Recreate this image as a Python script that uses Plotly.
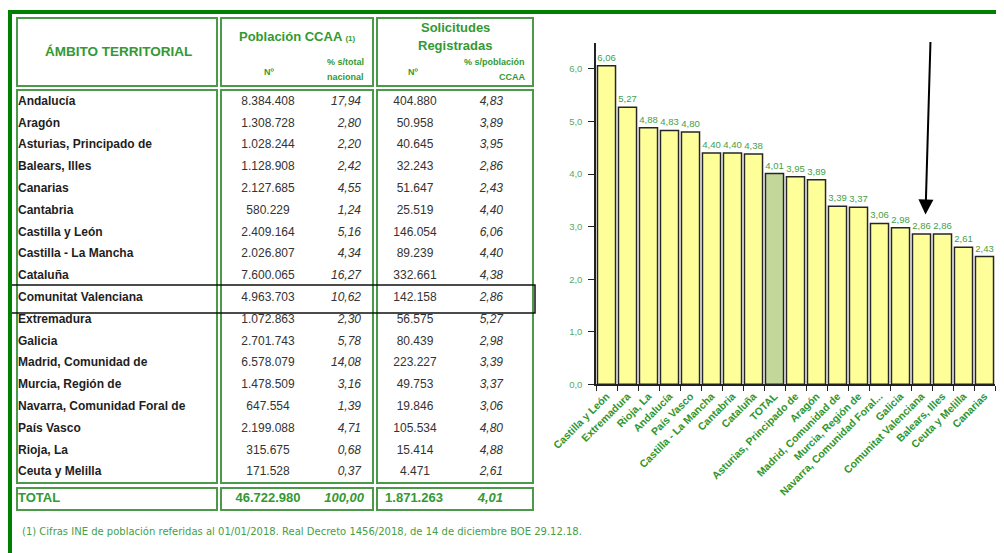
"""Solicitudes registradas por CCAA: tabla + ranking en barras."""
import plotly.graph_objects as go

W, H = 1004, 553
OFF = 8  # page body margin: figure pixel 0 sits at page pixel 8

# Tabla (orden alfabético como en la fuente)
regions = ["Andalucía", "Aragón", "Asturias, Principado de", "Balears, Illes",
           "Canarias", "Cantabria", "Castilla y León", "Castilla - La Mancha",
           "Cataluña", "Comunitat Valenciana", "Extremadura", "Galicia",
           "Madrid, Comunidad de", "Murcia, Región de", "Navarra, Comunidad Foral de",
           "País Vasco", "Rioja, La", "Ceuta y Melilla"]
pop_n = [8384408, 1308728, 1028244, 1128908, 2127685, 580229, 2409164, 2026807,
         7600065, 4963703, 1072863, 2701743, 6578079, 1478509, 647554, 2199088,
         315675, 171528]
pop_pct = [17.94, 2.80, 2.20, 2.42, 4.55, 1.24, 5.16, 4.34, 16.27, 10.62, 2.30,
           5.78, 14.08, 3.16, 1.39, 4.71, 0.68, 0.37]
sol_n = [404880, 50958, 40645, 32243, 51647, 25519, 146054, 89239, 332661,
         142158, 56575, 80439, 223227, 49753, 19846, 105534, 15414, 4471]
sol_pct = [4.83, 3.89, 3.95, 2.86, 2.43, 4.40, 6.06, 4.40, 4.38, 2.86, 5.27,
           2.98, 3.39, 3.37, 3.06, 4.80, 4.88, 2.61]

total_label = "TOTAL"
total_pop_n = 46722980
total_pop_pct = 100.00
total_sol_n = 1871263
total_sol_pct = 4.01

highlight = "Comunitat Valenciana"
footnote = ("(1) Cifras INE de población referidas al 01/01/2018. Real Decreto "
            "1456/2018, de 14 de diciembre BOE 29.12.18.")

# Gráfico (ordenado de mayor a menor)
chart_cats = ["Castilla y León", "Extremadura", "Rioja, La", "Andalucía", "País Vasco",
              "Castilla - La Mancha", "Cantabria", "Cataluña", "TOTAL",
              "Asturias, Principado de", "Aragón", "Madrid, Comunidad de",
              "Murcia, Región de", "Navarra, Comunidad Foral...", "Galicia",
              "Comunitat Valenciana", "Balears, Illes", "Ceuta y Melilla", "Canarias"]
chart_vals = [6.06, 5.27, 4.88, 4.83, 4.80, 4.40, 4.40, 4.38, 4.01, 3.95, 3.89,
              3.39, 3.37, 3.06, 2.98, 2.86, 2.86, 2.61, 2.43]

# colours
FRAME = "#008000"
BOX = "#4a9a4a"
HEAD = "#339933"
TXT_GREEN = "#45a045"
DARK = "#1e1e1e"
NUM = "#333333"
YELLOW = "#ffff99"
TOT_BAR = "#c4d79b"
ARIAL = "Liberation Sans, Arial, sans-serif"


def miles(v):
    return f"{v:,}".replace(",", ".")


def dec(v):
    return f"{v:.2f}".replace(".", ",")


def fx(x):  # page px -> paper fraction
    return (x - OFF) / W


def fy(y):
    return 1 - (y - OFF) / H


ROW_Y0, ROW_DY = 101.7, 21.8
row_y = [ROW_Y0 + i * ROW_DY for i in range(len(regions))]
TOTAL_Y = 499

fig = go.Figure()


def col(x, ys, texts, pos, size=12, color=NUM, weight="normal", style="normal"):
    fig.add_trace(go.Scatter(
        x=[x] * len(ys), y=ys, text=texts, mode="text", textposition=pos,
        marker=dict(size=0),
        textfont=dict(family=ARIAL, size=size, color=color, weight=weight, style=style),
        xaxis="x2", yaxis="y2", hoverinfo="skip", cliponaxis=False))


# table body
col(18, row_y, regions, "middle right", size=12, color=DARK, weight="bold")
col(268, row_y, [miles(v) for v in pop_n], "middle center")
col(361, row_y, [dec(v) for v in pop_pct], "middle left", style="italic")
col(415, row_y, [miles(v) for v in sol_n], "middle center")
col(503, row_y, [dec(v) for v in sol_pct], "middle left", style="italic")

# total row
col(18, [TOTAL_Y], [total_label], "middle right", size=13, color=HEAD, weight="bold")
col(268, [TOTAL_Y], [miles(total_pop_n)], "middle center", size=13, color=HEAD, weight="bold")
col(364, [TOTAL_Y], [dec(total_pop_pct)], "middle left", size=13, color=HEAD,
    weight="bold", style="italic")
col(414, [TOTAL_Y], [miles(total_sol_n)], "middle center", size=13, color=HEAD, weight="bold")
col(503, [TOTAL_Y], [dec(total_sol_pct)], "middle left", size=13, color=HEAD,
    weight="bold", style="italic")

# bar chart
fig.add_trace(go.Bar(
    x=chart_cats, y=chart_vals,
    marker=dict(color=[TOT_BAR if c == "TOTAL" else YELLOW for c in chart_cats],
                line=dict(color="#262626", width=1.5)),
    texttemplate="%{y:.2f}", textposition="outside", constraintext="none",
    textfont=dict(family=ARIAL, size=9.5, color=TXT_GREEN), cliponaxis=False,
    hoverinfo="skip"))

# boxes / frame
shapes = []


def rect(x0, y0, x1, y1, color=BOX, width=2):
    shapes.append(dict(type="rect", xref="x2", yref="y2", x0=x0, y0=y0, x1=x1, y1=y1,
                       line=dict(color=color, width=width), fillcolor="rgba(0,0,0,0)"))


for bx0, bx1 in ((17, 217), (221, 373), (377, 533)):
    rect(bx0, 18, bx1, 86)
    rect(bx0, 90, bx1, 483)
    rect(bx0, 488, bx1, 510)

hy = row_y[regions.index(highlight)]
rect(11, hy - 13, 535, hy + 15, color="#111111", width=1.5)

shapes.append(dict(type="line", xref="x2", yref="y2", x0=8, x1=W + OFF, y0=12, y1=12,
                   line=dict(color=FRAME, width=4)))
shapes.append(dict(type="line", xref="x2", yref="y2", x0=10, x1=10, y0=10, y1=H + OFF,
                   line=dict(color=FRAME, width=4)))

ann = []


def label(x, y, text, size=13, xanchor="center", color=HEAD, bold=True, family=ARIAL):
    ann.append(dict(xref="x2", yref="y2", x=x, y=y, text=f"<b>{text}</b>" if bold else text,
                    showarrow=False, xanchor=xanchor, yanchor="middle",
                    font=dict(family=family, size=size, color=color)))


label(118, 51, "ÁMBITO TERRITORIAL", size=13.5)
label(297, 36, "Población CCAA <span style='font-size:8px'>(1)</span>", size=13)
label(269, 72, "Nº", size=9)
label(366, 62, "% s/total", size=9, xanchor="right")
label(366, 77, "nacional", size=9, xanchor="right")
label(455, 27, "Solicitudes", size=13)
label(455, 45, "Registradas", size=13)
label(413, 72, "Nº", size=9)
label(527, 62, "% s/población", size=9, xanchor="right")
label(527, 77, "CCAA", size=9, xanchor="right")
label(20, 531, footnote, size=10, xanchor="left", color=TXT_GREEN, bold=False,
      family="DejaVu Sans, Verdana, sans-serif")

# arrow pointing at the Comunitat Valenciana bar
ann.append(dict(x=highlight, y=3.23, xref="x", yref="y", text="", showarrow=True,
                ax=5, ay=-174, arrowhead=2, arrowsize=1.5, arrowwidth=2,
                arrowcolor="black", xshift=4))

fig.update_layout(
    width=W, height=H, margin=dict(l=0, r=0, t=0, b=0, pad=0, autoexpand=False),
    paper_bgcolor="white", plot_bgcolor="rgba(0,0,0,0)",
    showlegend=False, separators=",.", bargap=0.14,
    xaxis=dict(domain=[fx(596), fx(995)], anchor="y", showline=True, automargin=False,
               linecolor="#222222", linewidth=1.5, ticks="outside", ticklen=5,
               tickcolor="#222222", tickson="boundaries", tickangle=-45,
               tickfont=dict(family=ARIAL, size=10.5, color="#2e962e", weight="bold"),
               showgrid=False, fixedrange=True),
    yaxis=dict(domain=[fy(384.3), fy(42.7)], anchor="x", range=[0, 6.5],
               showline=True, linecolor="#222222", linewidth=1.5, ticks="outside",
               automargin=False, ticklabelstandoff=4,
               ticklen=6, tickcolor="#222222", dtick=1, tickformat=".1f",
               tickfont=dict(family=ARIAL, size=9.5, color="#5aaa5a"),
               showgrid=False, zeroline=False, fixedrange=True),
    xaxis2=dict(domain=[0, 1], range=[OFF, W + OFF], visible=False, anchor="y2",
                automargin=False, fixedrange=True),
    yaxis2=dict(domain=[0, 1], range=[H + OFF, OFF], visible=False, anchor="x2",
                automargin=False, fixedrange=True),
    shapes=shapes, annotations=ann,
)

fig.write_html("out.html")
